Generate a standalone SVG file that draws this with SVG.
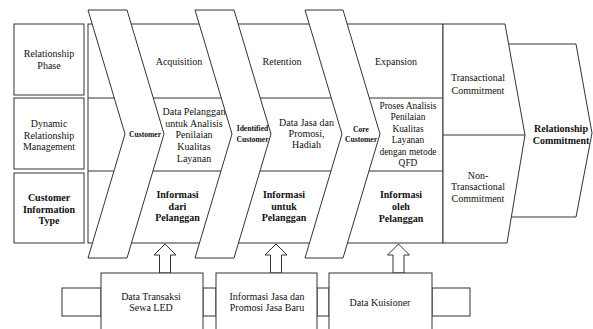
<svg xmlns="http://www.w3.org/2000/svg" width="593" height="329" viewBox="0 0 593 329">
<style>
.s{fill:#fff;stroke:#333;stroke-width:1;stroke-linejoin:miter}
.l{fill:none;stroke:#333;stroke-width:1}
text{font-size:10px;fill:#111;text-anchor:middle}
.b{font-weight:bold}
.sm{font-size:7.6px;font-weight:bold}
.m{font-size:9.4px}
</style>
<rect width="593" height="329" fill="#fff"/>
<g font-family="Liberation Serif, DejaVu Serif, serif">
<g id="label-phase"><rect class="s" x="14" y="24" width="70" height="71"/><text x="49" y="57">Relationship</text><text x="49" y="69">Phase</text></g>
<g id="label-management"><rect class="s" x="14" y="98" width="70" height="71"/><text x="49" y="127">Dynamic</text><text x="49" y="138.5">Relationship</text><text x="49" y="150">Management</text></g>
<g id="label-info"><rect class="s" x="14" y="173" width="70" height="70"/><text class="b" x="49" y="201">Customer</text><text class="b" x="49" y="212.5">Information</text><text class="b" x="49" y="224">Type</text></g>
<g id="frame"><rect class="s" x="88" y="24" width="355" height="219"/><line class="l" x1="88" y1="98" x2="443" y2="98"/><line class="l" x1="88" y1="171" x2="443" y2="171"/></g>
<g id="relationship-commitment"><polygon class="s" points="505,44 576,44 592,133 576,217 505,217"/><text class="b" x="561" y="132">Relationship</text><text class="b" x="561" y="143.5">Commitment</text></g>
<g id="commitment"><polygon class="s" points="443,24 505,24 525,135 507,243 443,243"/><line class="l" x1="443" y1="135" x2="525" y2="135"/><text x="478" y="81">Transactional</text><text x="478" y="93.5">Commitment</text><text x="478" y="178.5">Non-</text><text x="478" y="190">Transactional</text><text x="478" y="201.5">Commitment</text></g>
<g id="chevron-customer"><polygon class="s" points="88,10 127,10 164,134 127,258 88,258 125,134"/><text class="sm" x="145" y="137">Customer</text></g>
<g id="chevron-identified"><polygon class="s" points="195,10 234,10 271,134 234,258 195,258 232,134"/><text class="sm" x="252.5" y="131">Identified</text><text class="sm" x="252.5" y="142">Customer</text></g>
<g id="chevron-core"><polygon class="s" points="305,10 343,10 380,134 343,258 305,258 342,134"/><text class="sm" x="361" y="131.5">Core</text><text class="sm" x="361" y="142">Customer</text></g>
<g id="acquisition"><text x="179" y="64.5">Acquisition</text><text x="194" y="115">Data Pelanggan</text><text x="194" y="126.5">untuk Analisis</text><text x="194" y="138">Penilaian</text><text x="194" y="150">Kualitas</text><text x="194" y="162">Layanan</text><text class="b" x="177.5" y="198">Informasi</text><text class="b" x="177.5" y="209.5">dari</text><text class="b" x="177.5" y="221">Pelanggan</text></g>
<g id="retention"><text x="282" y="64.5">Retention</text><text x="306.5" y="125.5">Data Jasa dan</text><text x="306.5" y="137">Promosi,</text><text x="306.5" y="148">Hadiah</text><text class="b" x="284" y="198">Informasi</text><text class="b" x="284" y="209.5">untuk</text><text class="b" x="284" y="221">Pelanggan</text></g>
<g id="expansion"><text x="396" y="64.5">Expansion</text><text class="m" x="408" y="108.5">Proses Analisis</text><text class="m" x="408" y="120">Penilaian</text><text class="m" x="408" y="131.5">Kualitas</text><text class="m" x="408" y="143">Layanan</text><text class="m" x="408" y="154.5">dengan metode</text><text class="m" x="408" y="166">QFD</text><text class="b" x="401" y="198">Informasi</text><text class="b" x="401" y="210">oleh</text><text class="b" x="401" y="222">Pelanggan</text></g>
<g id="connectors">
<rect class="s" x="62" y="288" width="39" height="28"/>
<rect class="s" x="203" y="288" width="13" height="28"/>
<rect class="s" x="317" y="288" width="12" height="28"/>
<rect class="s" x="432" y="288" width="38" height="28"/>
<polygon class="s" points="165,244 176,255 170.5,255 170.5,273 159.5,273 159.5,255 154,255"/>
<polygon class="s" points="276,244 287,255 281.5,255 281.5,273 270.5,273 270.5,255 265,255"/>
<polygon class="s" points="398.5,244 409.5,255 404,255 404,273 393,273 393,255 387.5,255"/>
</g>
<g id="box-transaksi"><rect class="s" x="101" y="273" width="102" height="70"/><text x="151" y="300">Data Transaksi</text><text x="151" y="311">Sewa LED</text></g>
<g id="box-informasi"><rect class="s" x="216" y="273" width="101" height="70"/><text x="267" y="300">Informasi Jasa dan</text><text x="267" y="311">Promosi Jasa Baru</text></g>
<g id="box-kuisioner"><rect class="s" x="329" y="273" width="103" height="70"/><text x="380" y="306">Data Kuisioner</text></g>
</g>
</svg>
